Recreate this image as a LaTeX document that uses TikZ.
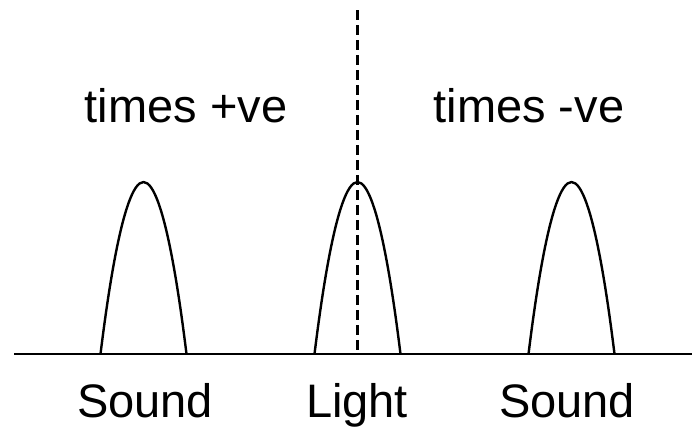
\documentclass[tikz,border=0pt]{standalone}
\usepackage{fontspec}
\setmainfont{Liberation Sans}
\begin{document}
\begin{tikzpicture}[x=1pt,y=-1pt,
  lbl/.style={anchor=base,inner sep=0pt,font=\fontsize{47}{56}\selectfont},
  curve/.style={line width=2.4pt,line join=round},
  axis/.style={line width=2.6pt},
  divider/.style={line width=2.4pt,dash pattern=on 10pt off 5pt}]
\useasboundingbox (0,0) rectangle (692,426);
% baseline
\coordinate (axL) at (14,354);
\coordinate (axR) at (692,354);
\draw[axis] (axL) -- (axR);
% peaks
\coordinate (p1a) at (100.5,354); \coordinate (p1t) at (143.5,182); \coordinate (p1b) at (186.5,354);
\coordinate (p2a) at (314.5,354); \coordinate (p2t) at (357.5,182); \coordinate (p2b) at (400.5,354);
\coordinate (p3a) at (528.5,354); \coordinate (p3t) at (571.5,182); \coordinate (p3b) at (614.5,354);
\draw[curve] (p1a) parabola bend (p1t) (p1b);
\draw[curve] (p2a) parabola bend (p2t) (p2b);
\draw[curve] (p3a) parabola bend (p3t) (p3b);
% divider
\coordinate (dvT) at (357.5,10);
\coordinate (dvB) at (357.5,354);
\draw[divider] (dvT) -- (dvB);
% labels
\node[lbl] (tpos) at (186,122) {times +ve};
\node[lbl] (tneg) at (529,122) {times -ve};
\node[lbl] (s1) at (145,417) {Sound};
\node[lbl] (lt) at (357,417) {Light};
\node[lbl] (s2) at (567,417) {Sound};
\end{tikzpicture}
\end{document}
